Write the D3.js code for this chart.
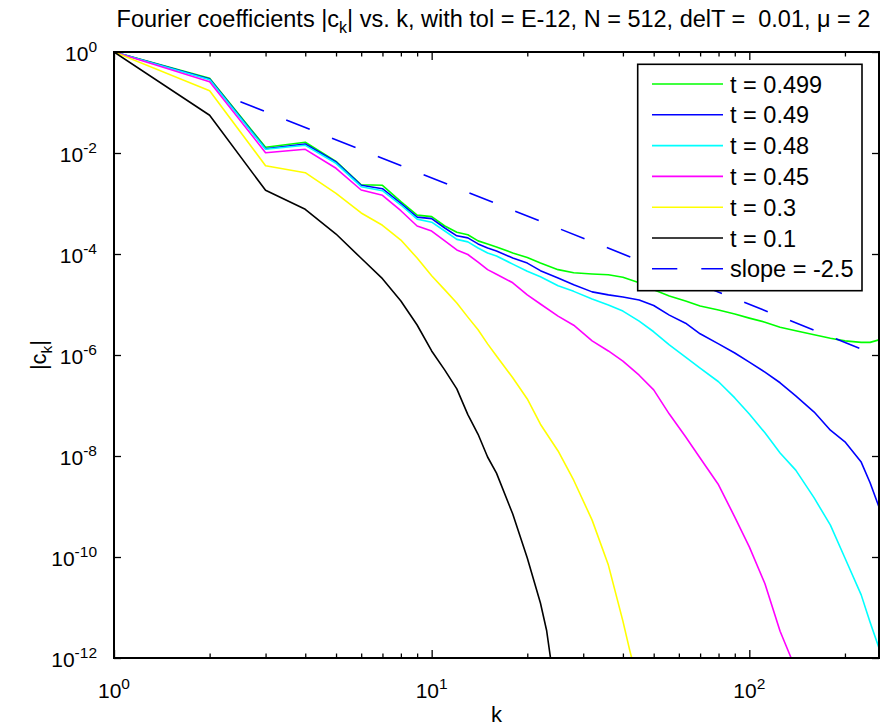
<!DOCTYPE html>
<html>
<head>
<meta charset="utf-8">
<script src="https://cdn.jsdelivr.net/npm/d3@7"></script>
<style>
  body { margin: 0; background: #fff; }
  svg { display: block; font-family: "Liberation Sans", Arial, sans-serif; }
</style>
</head>
<body>
<svg id="chart" width="880" height="728"></svg>
<script>
const kGrid = [1, 2, 3, 4, 5, 6, 7, 8, 9, 10, 11, 12, 13, 14, 15, 16, 18, 20, 22, 23, 24, 25,
               28, 32, 36, 40, 42, 44, 45, 50, 56, 63, 70, 80, 90, 100, 112, 125, 135, 140,
               160, 180, 200, 225, 240, 256];

// log10 |c_k| for each t (null = not read at that k)
const logC_t0499 = [0, -0.52, -1.887, -1.788, -2.165, -2.628, -2.64, -2.964, -3.23, -3.26, -3.445, -3.57, -3.62, -3.74, -3.80, -3.86, -3.98, -4.07, -4.18, null, null, -4.31,
                    -4.37, -4.395, -4.41, -4.46, null, null, -4.57, -4.71, -4.83, -4.93, -5.03, -5.11, -5.19, -5.27, -5.35, -5.45, null, -5.52,
                    -5.60, -5.67, -5.72, -5.75, -5.75, -5.70];
const logC_t049  = [0, -0.535, -1.915, -1.822, -2.178, -2.64, -2.707, -2.996, -3.27, -3.30, -3.485, -3.64, -3.68, -3.80, -3.88, -3.94, -4.08, -4.18, -4.33, null, null, -4.475,
                    -4.61, -4.75, -4.81, -4.85, null, null, -4.91, -5.02, -5.21, -5.37, -5.58, -5.78, -5.96, -6.14, -6.34, -6.55, null, -6.81,
                    -7.13, -7.49, -7.72, -8.12, -8.53, -9.01];
const logC_t048  = [0, -0.55, -1.927, -1.848, -2.204, -2.667, -2.746, -3.03, -3.31, -3.37, -3.545, -3.71, -3.76, -3.88, -3.98, -4.04, -4.20, -4.34, -4.45, null, null, -4.63,
                    -4.74, -4.89, -5.01, -5.13, null, null, -5.33, -5.54, -5.80, -6.04, -6.26, -6.53, -6.85, -7.17, -7.54, -7.94, null, -8.28,
                    -8.83, -9.37, -10.02, -10.75, -11.29, -11.80];
const logC_t045  = [0, -0.588, -1.994, -1.927, -2.303, -2.733, -2.838, -3.143, -3.445, -3.545, -3.74, -3.92, -4.01, -4.16, -4.31, -4.40, -4.57, -4.81, -4.99, null, null, -5.23,
                    -5.41, -5.72, -5.92, -6.12, null, null, -6.40, -6.69, -7.17, -7.62, -8.04, -8.57, -9.21, -9.80, -10.53, -11.47, -11.98, -12.28,
                    null, null, null, null, null, null];
const logC_t03   = [0, -0.766, -2.251, -2.39, -2.798, -3.188, -3.432, -3.723, -4.08, -4.43, -4.71, -4.97, -5.25, -5.50, -5.78, -6.02, -6.45, -6.87, -7.37, null, null, -7.90,
                    -8.48, -9.27, -10.16, -11.27, -11.84, -12.34, null, null, null, null, null, null, null, null, null, null, null, null,
                    null, null, null, null, null, null];
const logC_t01   = [0, -1.253, -2.739, -3.115, -3.604, -4.085, -4.489, -4.93, -5.406, -5.92, -6.30, -6.67, -7.18, -7.57, -8.02, -8.34, -9.15, -10.02, -10.91, -11.45, -12.27, null,
                    null, null, null, null, null, null, null, null, null, null, null, null, null, null, null, null, null, null,
                    null, null, null, null, null, null];

// reference line of slope -2.5 (end points)
const slopeK = [2.5, 256];
const slopeLogC = [-0.984, -6.02];

const seriesNames  = ["t = 0.499", "t = 0.49", "t = 0.48", "t = 0.45", "t = 0.3", "t = 0.1"];
const seriesColors = ["#00ff00", "#0000ff", "#00ffff", "#ff00ff", "#ffff00", "#000000"];
const seriesLogs   = [logC_t0499, logC_t049, logC_t048, logC_t045, logC_t03, logC_t01];

const yTickExp = [0, -2, -4, -6, -8, -10, -12];
const xMajor = [1, 10, 100];
const xMinor = [2, 3, 4, 5, 6, 7, 8, 9, 20, 30, 40, 50, 60, 70, 80, 90, 200];

const plotLeft = 114, plotRight = 879, plotTop = 52, plotBottom = 658;

const svg = d3.select("#chart");

const x = d3.scaleLog().domain([1, 256]).range([plotLeft, plotRight]);
const y = d3.scaleLog().domain([1e-12, 1]).range([plotBottom, plotTop]);

svg.append("defs").append("clipPath").attr("id", "plotclip")
  .append("rect").attr("x", plotLeft).attr("y", plotTop)
  .attr("width", plotRight - plotLeft).attr("height", plotBottom - plotTop);

const line = d3.line().x(d => x(d.k)).y(d => y(d.c));

const plot = svg.append("g").attr("clip-path", "url(#plotclip)");

seriesLogs.forEach((logs, i) => {
  let pts = kGrid.map((k, j) => ({k: k, v: logs[j]}))
                 .filter(d => d.v != null)
                 .map(d => ({k: d.k, c: Math.pow(10, d.v)}));
  plot.append("path")
    .attr("d", line(pts))
    .attr("fill", "none")
    .attr("stroke", seriesColors[i])
    .attr("stroke-width", 1.6)
    .attr("stroke-linejoin", "round");
});

plot.append("path")
  .attr("d", line(slopeK.map((k, j) => ({k: k, c: Math.pow(10, slopeLogC[j])}))))
  .attr("fill", "none")
  .attr("stroke", "#0000ff")
  .attr("stroke-width", 1.6)
  .attr("stroke-dasharray", "25.3,24");

// ticks, pointing inward on all four sides
function ticks(axis, transform) {
  let g = svg.append("g").attr("transform", transform).call(axis);
  g.select(".domain").remove();
  g.selectAll(".tick line").attr("stroke", "#000").attr("stroke-width", 1.3);
  g.selectAll(".tick text").remove();
}
ticks(d3.axisBottom(x).tickValues(xMajor).tickSize(-8).tickSizeOuter(0), `translate(0,${plotBottom})`);
ticks(d3.axisBottom(x).tickValues(xMinor).tickSize(-4.5).tickSizeOuter(0), `translate(0,${plotBottom})`);
ticks(d3.axisTop(x).tickValues(xMajor).tickSize(-8).tickSizeOuter(0), `translate(0,${plotTop})`);
ticks(d3.axisTop(x).tickValues(xMinor).tickSize(-4.5).tickSizeOuter(0), `translate(0,${plotTop})`);
const yVals = yTickExp.map(e => Math.pow(10, e));
ticks(d3.axisLeft(y).tickValues(yVals).tickSize(-7).tickSizeOuter(0), `translate(${plotLeft},0)`);
ticks(d3.axisRight(y).tickValues(yVals).tickSize(-7).tickSizeOuter(0), `translate(${plotRight},0)`);

svg.append("rect")
  .attr("x", plotLeft).attr("y", plotTop)
  .attr("width", plotRight - plotLeft).attr("height", plotBottom - plotTop)
  .attr("fill", "none").attr("stroke", "#000").attr("stroke-width", 2);

// tick labels 10^n
yTickExp.forEach(e => {
  let t = svg.append("text")
    .attr("x", 97).attr("y", y(Math.pow(10, e)) + 8.5)
    .attr("text-anchor", "end")
    .attr("font-size", 21);
  t.append("tspan").text("10");
  t.append("tspan").attr("dy", -9).attr("font-size", 15.5).text(e);
});
xMajor.forEach((k, i) => {
  let t = svg.append("text")
    .attr("x", x(k)).attr("y", 698)
    .attr("text-anchor", "middle")
    .attr("font-size", 21);
  t.append("tspan").text("10");
  t.append("tspan").attr("dy", -9).attr("font-size", 15.5).text(i);
});

// axis labels
svg.append("text")
  .attr("x", (plotLeft + plotRight) / 2).attr("y", 722)
  .attr("text-anchor", "middle").attr("font-size", 22)
  .text("k");

let yl = svg.append("text")
  .attr("transform", `translate(46,${(plotTop + plotBottom) / 2}) rotate(-90)`)
  .attr("text-anchor", "middle").attr("font-size", 22);
yl.append("tspan").text("|c");
yl.append("tspan").attr("dy", 6).attr("font-size", 15.5).text("k");
yl.append("tspan").attr("dy", -6).text("|");

// title
let title = svg.append("text")
  .attr("x", (plotLeft + plotRight) / 2 - 3).attr("y", 27)
  .attr("text-anchor", "middle").attr("font-size", 23.5)
  .style("white-space", "pre");
title.append("tspan").text("Fourier coefficients |c");
title.append("tspan").attr("dy", 6).attr("font-size", 16).text("k");
title.append("tspan").attr("dy", -6).text("| vs. k, with tol = E-12, N = 512, delT =  0.01, \u03bc = 2");

// legend
const legX = 637.7, legY = 64.3, legW = 224.3, legH = 226.4;
const leg = svg.append("g");
leg.append("rect")
  .attr("x", legX).attr("y", legY).attr("width", legW).attr("height", legH)
  .attr("fill", "#fff").attr("stroke", "#000").attr("stroke-width", 1.6);

const legNames = seriesNames.concat(["slope = -2.5"]);
const legColors = seriesColors.concat(["#0000ff"]);
legNames.forEach((name, i) => {
  let cy = 84 + i * 30.8;
  leg.append("line")
    .attr("x1", 652).attr("x2", 723).attr("y1", cy).attr("y2", cy)
    .attr("stroke", legColors[i]).attr("stroke-width", 1.6)
    .attr("stroke-dasharray", i == 6 ? "25.3,24" : null);
  leg.append("text")
    .attr("x", 730).attr("y", cy + 8.5)
    .attr("font-size", 23.5)
    .text(name);
});
</script>
</body>
</html>
